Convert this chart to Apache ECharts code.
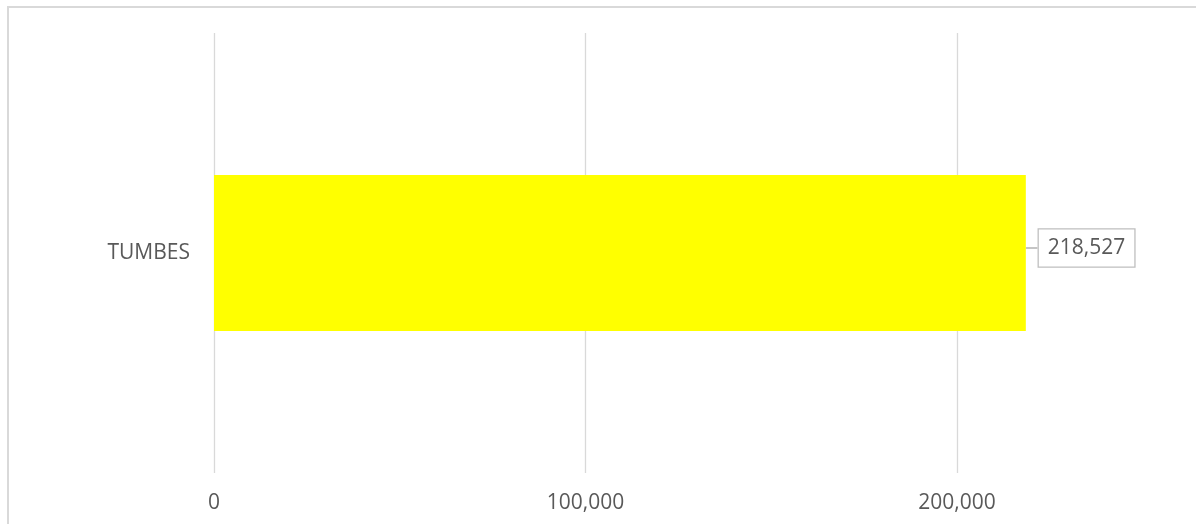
<!DOCTYPE html>
<html>
<head>
<meta charset="utf-8">
<script src="https://cdn.jsdelivr.net/npm/echarts@6/dist/echarts.min.js"></script>
<style>
html,body{margin:0;padding:0;background:#fff;overflow:hidden;width:1196px;height:524px;}
#frame{position:absolute;left:7px;top:6px;width:1300px;height:600px;border-left:2px solid #d9d9d9;border-top:2px solid #d9d9d9;box-sizing:border-box;}
#chart{position:absolute;left:0;top:0;width:1400px;height:524px;}
</style>
</head>
<body>
<div id="frame"></div>
<div id="chart"></div>
<script>
const categories = ['TUMBES'];
const values = [218527];
const tickInterval = 100000;

const fmt = v => v.toLocaleString('en-US');
const chart = echarts.init(document.getElementById('chart'));
chart.setOption({
  animation: false,
  textStyle: { fontFamily: 'Open Sans' },
  grid: { left: 214, top: 33, bottom: 51, width: 1114.5, containLabel: false },
  xAxis: {
    type: 'value', min: 0, max: 300000, interval: tickInterval,
    axisLine: { show: false }, axisTick: { show: false },
    splitLine: { show: true, lineStyle: { color: '#d9d9d9', width: 1.3 } },
    axisLabel: { color: '#595959', fontSize: 21, margin: 20, formatter: v => fmt(v) }
  },
  yAxis: {
    type: 'category', data: categories,
    axisLine: { show: false }, axisTick: { show: false },
    axisLabel: { color: '#595959', fontSize: 21, margin: 24 }
  },
  series: [{
    type: 'bar', data: values, barWidth: 156,
    itemStyle: { color: '#ffff00' },
    label: {
      show: true, position: 'right', distance: 0,
      formatter: p => fmt(p.value),
      color: '#595959', fontSize: 21,
      backgroundColor: '#fff', borderColor: '#bfbfbf', borderWidth: 1.3,
      padding: [8, 9, 8, 9]
    },
    labelLayout: { dx: 13, dy: -5 },
    labelLine: { show: true, lineStyle: { color: '#a6a6a6', width: 1.3 } }
  }]
});
</script>
</body>
</html>
